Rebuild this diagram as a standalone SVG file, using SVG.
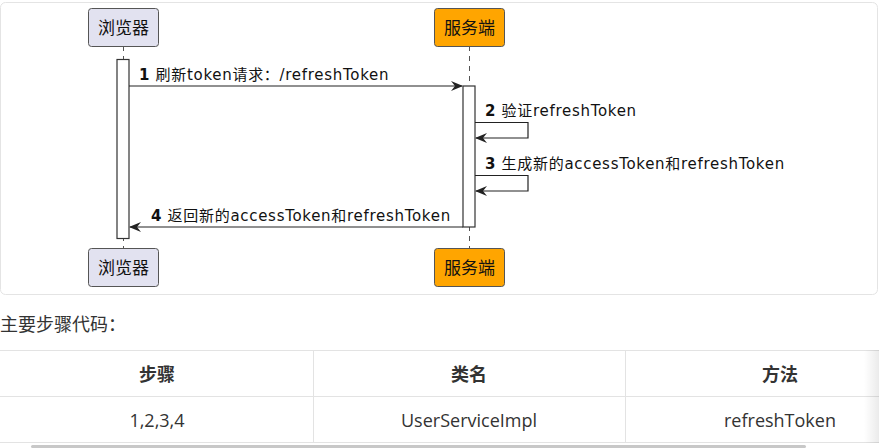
<svg xmlns="http://www.w3.org/2000/svg" width="879" height="448" viewBox="0 0 879 448">
<defs>
<style>
.card{fill:#fff;stroke:#e4e4e4;stroke-width:1}
.part{stroke:#555;stroke-width:1}
.pt{font-family:"Noto Sans CJK SC","Noto Sans",sans-serif;font-size:17px;fill:#111;text-anchor:middle}
.life{stroke:#555;stroke-width:1;stroke-dasharray:5,5}
.act{fill:#fff;stroke:#333;stroke-width:1.2}
.msg{stroke:#222;stroke-width:1.2;fill:none}
.lbl{font-family:"DejaVu Sans","Noto Sans CJK SC",sans-serif;font-size:15px;letter-spacing:0.7px;fill:#111}
.num{font-weight:bold}
.tx{font-family:"Noto Sans CJK SC","Noto Sans",sans-serif;font-size:18px;fill:#333}
.th{font-family:"Noto Sans CJK SC","Noto Sans",sans-serif;font-size:18px;font-weight:bold;fill:#333;text-anchor:middle}
.td{font-family:"Open Sans","Noto Sans CJK SC",sans-serif;font-size:18px;fill:#333;text-anchor:middle}
.grid{stroke:#e3e3e3;stroke-width:1}
</style>
<marker id="ah" viewBox="0 0 12 10" refX="11" refY="5" markerWidth="12" markerHeight="10" markerUnits="userSpaceOnUse" orient="auto">
<path d="M0,0 L12,5 L0,10 L4,5 Z" fill="#222"/>
</marker>
<linearGradient id="sh" x1="0" y1="0" x2="1" y2="0">
<stop offset="0" stop-color="#000" stop-opacity="0"/>
<stop offset="1" stop-color="#000" stop-opacity="0.08"/>
</linearGradient>
</defs>
<rect width="879" height="448" fill="#fff"/>
<rect class="card" x="0.5" y="2.5" width="877" height="292" rx="5"/>

<g id="lifelines">
<line class="life" x1="123.5" y1="46" x2="123.5" y2="248"/>
<line class="life" x1="469.5" y1="46" x2="469.5" y2="248"/>
</g>

<g id="browser-top">
<rect class="part" x="88.5" y="8.5" width="70" height="38" rx="3" fill="#e2e2f0"/>
<text class="pt" x="123.5" y="33.5">浏览器</text>
</g>
<g id="server-top">
<rect class="part" x="434.5" y="8.5" width="70" height="38" rx="3" fill="#ffa500"/>
<text class="pt" x="469.5" y="33.5">服务端</text>
</g>
<g id="browser-bottom">
<rect class="part" x="88.5" y="248.5" width="70" height="38" rx="3" fill="#e2e2f0"/>
<text class="pt" x="123.5" y="273.5">浏览器</text>
</g>
<g id="server-bottom">
<rect class="part" x="434.5" y="248.5" width="70" height="38" rx="3" fill="#ffa500"/>
<text class="pt" x="469.5" y="273.5">服务端</text>
</g>

<g id="activations">
<rect class="act" x="117" y="59.5" width="12" height="179"/>
<rect class="act" x="463" y="86" width="12" height="141"/>
</g>

<g id="connectors">
<line class="msg" x1="129" y1="86" x2="462" y2="86" marker-end="url(#ah)"/>
<polyline class="msg" points="475,122.5 528,122.5 528,138 476,138" marker-end="url(#ah)"/>
<polyline class="msg" points="475,175.5 528,175.5 528,191 476,191" marker-end="url(#ah)"/>
<line class="msg" x1="463" y1="227" x2="130" y2="227" marker-end="url(#ah)"/>
</g>

<g id="labels">
<text class="lbl" x="139" y="80"><tspan class="num">1</tspan> 刷新token请求：/refreshToken</text>
<text class="lbl" x="485" y="116"><tspan class="num">2</tspan> 验证refreshToken</text>
<text class="lbl" x="485" y="169"><tspan class="num">3</tspan> 生成新的accessToken和refreshToken</text>
<text class="lbl" x="151" y="221"><tspan class="num">4</tspan> 返回新的accessToken和refreshToken</text>
</g>

<text class="tx" x="0" y="331">主要步骤代码：</text>

<g id="table">
<line class="grid" x1="0" y1="350.5" x2="879" y2="350.5"/>
<line class="grid" x1="0" y1="396.5" x2="879" y2="396.5"/>
<line class="grid" x1="0" y1="442.5" x2="879" y2="442.5"/>
<line class="grid" x1="313.5" y1="350" x2="313.5" y2="442"/>
<line class="grid" x1="625.5" y1="350" x2="625.5" y2="442"/>
<text class="th" x="157" y="381">步骤</text>
<text class="th" x="469" y="381">类名</text>
<text class="th" x="780" y="381">方法</text>
<text class="td" x="157" y="427">1,2,3,4</text>
<text class="td" x="469" y="427">UserServiceImpl</text>
<text class="td" x="780" y="427">refreshToken</text>
<rect x="864" y="350" width="15" height="93" fill="url(#sh)"/>
<rect x="31" y="445" width="775" height="3" rx="1.5" fill="#c8c8c8"/>
</g>
</svg>
